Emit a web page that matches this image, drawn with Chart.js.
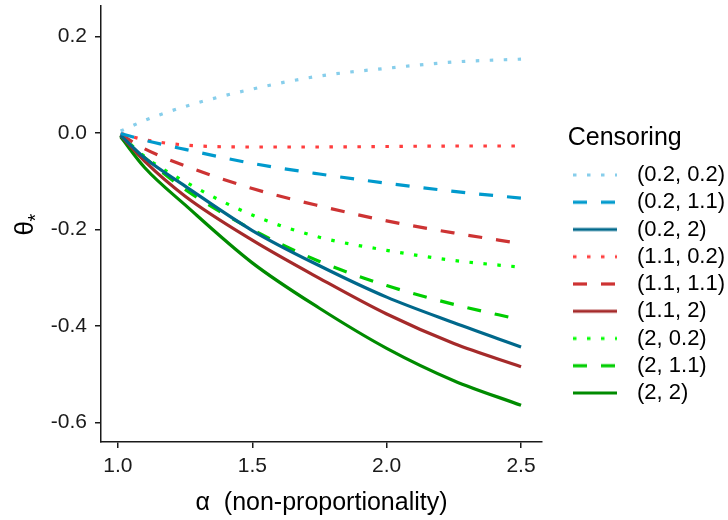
<!DOCTYPE html>
<html>
<head>
<meta charset="utf-8">
<script src="https://cdn.jsdelivr.net/npm/chart.js@4.4.1/dist/chart.umd.min.js"></script>
<style>
  html, body { margin: 0; padding: 0; background: #fff; }
</style>
</head>
<body>
<canvas id="my-chart" width="728" height="520"></canvas>
<script>
// alpha values where theta was evaluated
const alphaValues = [1.01, 1.1, 1.25, 1.5, 1.75, 2.0, 2.25, 2.5];

const censoringLabels = ['(0.2, 0.2)', '(0.2, 1.1)', '(0.2, 2)', '(1.1, 0.2)', '(1.1, 1.1)',
  '(1.1, 2)', '(2, 0.2)', '(2, 1.1)', '(2, 2)'];

const theta_02_02 = [0.004, 0.026, 0.055, 0.091, 0.118, 0.134, 0.147, 0.153];
const theta_02_11 = [-0.001, -0.015, -0.034, -0.063, -0.085, -0.104, -0.121, -0.135];
const theta_02_2  = [-0.005, -0.052, -0.110, -0.202, -0.275, -0.340, -0.393, -0.443];
const theta_11_02 = [-0.001, -0.014, -0.025, -0.029, -0.029, -0.028, -0.027, -0.027];
const theta_11_11 = [-0.003, -0.033, -0.068, -0.115, -0.151, -0.182, -0.207, -0.229];
const theta_11_2  = [-0.005, -0.059, -0.131, -0.222, -0.301, -0.375, -0.436, -0.484];
const theta_2_02  = [-0.004, -0.049, -0.101, -0.170, -0.216, -0.243, -0.264, -0.278];
const theta_2_11  = [-0.005, -0.051, -0.117, -0.200, -0.266, -0.316, -0.355, -0.387];
const theta_2_2   = [-0.008, -0.072, -0.149, -0.269, -0.363, -0.446, -0.513, -0.564];

const xTicks = [1.0, 1.5, 2.0, 2.5];
const yTicks = [-0.6, -0.4, -0.2, 0.0, 0.2];

const seriesValues = [theta_02_02, theta_02_11, theta_02_2, theta_11_02, theta_11_11,
  theta_11_2, theta_2_02, theta_2_11, theta_2_2];
const seriesColors = ['#87CEEB', '#009ACD', '#00688B', '#FF3E3E', '#CD3333',
  '#A52A2A', '#00FF00', '#00CD00', '#008B00'];
const DOTTED = [3.5, 10.5];
const DASHED = [14, 14];
const seriesDash = [DOTTED, DASHED, [], DOTTED, DASHED, [], DOTTED, DASHED, []];

const FONT = "'Liberation Sans', Arial, sans-serif";
const LINE_W = 3.2;

// little line samples for the legend
function makeSwatch(color, dash) {
  const c = document.createElement('canvas');
  c.width = 53;
  c.height = 8;
  const g = c.getContext('2d');
  g.strokeStyle = color;
  g.lineWidth = LINE_W;
  g.setLineDash(dash);
  g.beginPath();
  g.moveTo(0, 4);
  g.lineTo(44, 4);
  g.stroke();
  return c;
}
const swatches = seriesColors.map((c, i) => makeSwatch(c, seriesDash[i]));

const datasets = censoringLabels.map((label, i) => ({
  label: label,
  data: alphaValues.map((a, j) => ({ x: a, y: seriesValues[i][j] })),
  borderColor: seriesColors[i],
  backgroundColor: seriesColors[i],
  borderDash: seriesDash[i],
  borderWidth: LINE_W,
  pointRadius: 0,
  fill: false,
  cubicInterpolationMode: 'monotone'
}));

const layoutFix = {
  id: 'layoutFix',
  afterInit(chart) {
    const lg = chart.legend;
    const fit = lg.fit;
    lg.fit = function () { fit.call(this); this.width = 186; };
  },
  afterLayout(chart) {
    chart.legend.left = 567.75;
    chart.legend.right = 728;
  },
  afterDraw(chart) {
    // y axis title: theta with a subscript star
    const ctx = chart.ctx;
    ctx.save();
    ctx.translate(33, 229);
    ctx.rotate(-Math.PI / 2);
    ctx.fillStyle = '#000';
    ctx.textAlign = 'left';
    ctx.textBaseline = 'alphabetic';
    ctx.font = '26px ' + FONT;
    ctx.fillText('θ', -6.5, 0);
    ctx.font = '20px ' + FONT;
    ctx.fillText('*', 7.5, 8.5);
    ctx.restore();
  }
};

const axisCommon = {
  type: 'linear',
  grid: { display: true, drawOnChartArea: false, drawTicks: true, tickLength: 6, color: '#1a1a1a', lineWidth: 1.5 },
  border: { display: true, color: '#1a1a1a', width: 1.5 },
};

const ctx = document.getElementById('my-chart').getContext('2d');
const chart = new Chart(ctx, {
  type: 'line',
  data: { datasets: datasets },
  plugins: [layoutFix],
  options: {
    responsive: false,
    animation: false,
    devicePixelRatio: 1,
    layout: { padding: { top: 6, left: 0, right: 0, bottom: 0 } },
    scales: {
      x: {
        ...axisCommon,
        min: 0.937,
        max: 2.578,
        afterBuildTicks: s => { s.ticks = xTicks.map(v => ({ value: v })); },
        afterFit: s => { s.height = 78; s.paddingLeft = 0; s.paddingRight = 0; },
        ticks: { padding: 6, color: '#1a1a1a', font: { family: FONT, size: 21 }, maxRotation: 0, autoSkip: false,
          callback: v => v.toFixed(1) },
        title: { display: true, text: 'α  (non-proportionality)', color: '#000',
          font: { family: FONT, size: 25 }, padding: { top: 0, bottom: 2 } }
      },
      y: {
        ...axisCommon,
        min: -0.640,
        max: 0.263,
        afterBuildTicks: s => { s.ticks = yTicks.map(v => ({ value: v })); },
        afterFit: s => { s.width = 101; s.paddingTop = 0; s.paddingBottom = 0; },
        ticks: { padding: 8, color: '#1a1a1a', font: { family: FONT, size: 21 }, autoSkip: false,
          callback: v => v.toFixed(1) },
        title: { display: false }
      }
    },
    plugins: {
      tooltip: { enabled: false },
      legend: {
        position: 'right',
        align: 'center',
        title: { display: true, text: 'Censoring', position: 'start', color: '#000',
          font: { family: FONT, size: 25 }, padding: { top: 8.75, bottom: 3.25 } },
        labels: {
          usePointStyle: true,
          pointStyleWidth: 53,
          padding: 5.25,
          color: '#000',
          font: { family: FONT, size: 22 },
          generateLabels: chart => chart.data.datasets.map((ds, i) => ({
            text: ds.label,
            pointStyle: swatches[i],
            datasetIndex: i,
            hidden: false,
            fontColor: '#000',
            fillStyle: ds.borderColor,
            strokeStyle: ds.borderColor,
            lineWidth: 0
          }))
        }
      }
    }
  }
});
</script>
</body>
</html>
